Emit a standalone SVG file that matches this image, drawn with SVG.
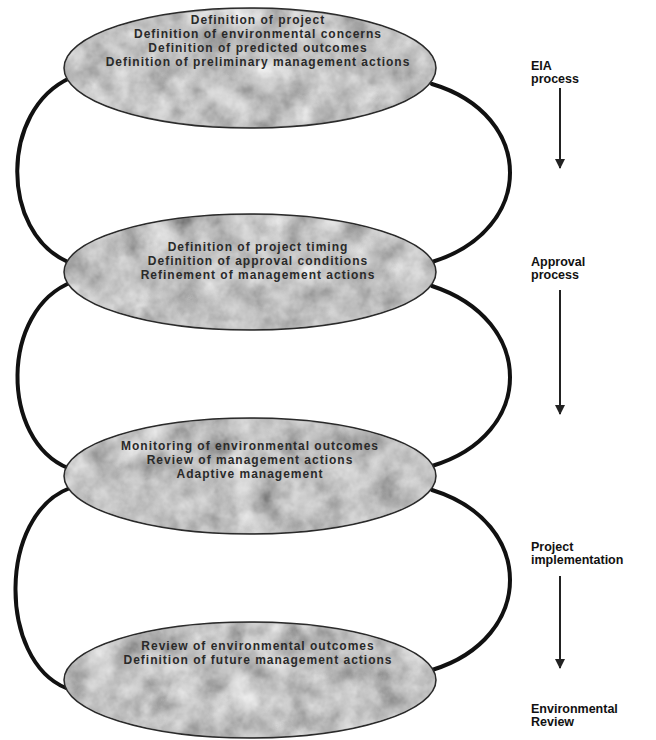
<svg xmlns="http://www.w3.org/2000/svg" width="656" height="740" viewBox="0 0 656 740">
<style>
.bg{fill:#ffffff}
.ell{fill:#8e8e8e;stroke:#2a2a2a;stroke-width:1.5}
.tex{filter:url(#tex)}
.t{font-family:"Liberation Sans",Arial,sans-serif;font-size:12px;font-weight:bold;fill:#2a2a2a;text-anchor:middle;letter-spacing:1px}
.lab{font-family:"Liberation Sans",Arial,sans-serif;font-size:12.5px;font-weight:bold;fill:#111}
.con{fill:none;stroke:#111;stroke-width:4;stroke-linecap:round}
.arr{fill:none;stroke:#222;stroke-width:2;marker-end:url(#ah)}
</style>
<defs>
<filter id="tex" x="0" y="0" width="100%" height="100%">
<feTurbulence type="fractalNoise" baseFrequency="0.035" numOctaves="4" seed="7" result="n"/>
<feColorMatrix in="n" type="matrix" values="0.45 0.45 0.45 0 -0.14  0.45 0.45 0.45 0 -0.14  0.45 0.45 0.45 0 -0.14  0 0 0 0 1" result="g"/>
<feComposite in="g" in2="SourceGraphic" operator="in"/>
</filter>
<marker id="ah" viewBox="0 0 10 10" refX="9" refY="5" markerWidth="5" markerHeight="5" orient="auto" markerUnits="strokeWidth">
<path d="M0,0 L10,5 L0,10 Z" fill="#222"/>
</marker>
</defs>
<rect class="bg" x="0" y="0" width="656" height="740"/>
<g id="connectors">
<path class="con" d="M70,78 C0,110 0,232 68,262"/>
<path class="con" d="M72,282 C0,310 0,440 68,468"/>
<path class="con" d="M70,488 C-2,515 -2,660 66,688"/>
<path class="con" d="M432,84 C536,115 536,230 432,262"/>
<path class="con" d="M432,286 C536,320 536,435 432,466"/>
<path class="con" d="M432,490 C536,522 536,638 432,670"/>
<path class="arr" d="M560,88 L560,168"/>
<path class="arr" d="M560,290 L560,414"/>
<path class="arr" d="M560,576 L560,668"/>
</g>
<g id="node-eia-stage">
<ellipse class="ell" cx="250" cy="68" rx="186" ry="60"/>
<ellipse class="tex" cx="250" cy="68" rx="185" ry="59"/>
<text class="t" x="258" y="24">Definition of project</text>
<text class="t" x="258" y="38">Definition of environmental concerns</text>
<text class="t" x="258" y="52">Definition of predicted outcomes</text>
<text class="t" x="258" y="66">Definition of preliminary management actions</text>
</g>
<g id="node-approval-stage">
<ellipse class="ell" cx="250" cy="272" rx="186" ry="58"/>
<ellipse class="tex" cx="250" cy="272" rx="185" ry="57"/>
<text class="t" x="258" y="251">Definition of project timing</text>
<text class="t" x="258" y="265">Definition of approval conditions</text>
<text class="t" x="258" y="279">Refinement of management actions</text>
</g>
<g id="node-implementation-stage">
<ellipse class="ell" cx="250" cy="476" rx="186" ry="58"/>
<ellipse class="tex" cx="250" cy="476" rx="185" ry="57"/>
<text class="t" x="250" y="450">Monitoring of environmental outcomes</text>
<text class="t" x="250" y="464">Review of management actions</text>
<text class="t" x="250" y="478">Adaptive management</text>
</g>
<g id="node-review-stage">
<ellipse class="ell" cx="250" cy="680" rx="186" ry="58"/>
<ellipse class="tex" cx="250" cy="680" rx="185" ry="57"/>
<text class="t" x="258" y="650">Review of environmental outcomes</text>
<text class="t" x="258" y="664">Definition of future management actions</text>
</g>
<g id="labels">
<text class="lab" x="531" y="70">EIA</text>
<text class="lab" x="531" y="83">process</text>
<text class="lab" x="531" y="266">Approval</text>
<text class="lab" x="531" y="279">process</text>
<text class="lab" x="531" y="551">Project</text>
<text class="lab" x="531" y="564">implementation</text>
<text class="lab" x="531" y="713">Environmental</text>
<text class="lab" x="531" y="726">Review</text>
</g>
</svg>
